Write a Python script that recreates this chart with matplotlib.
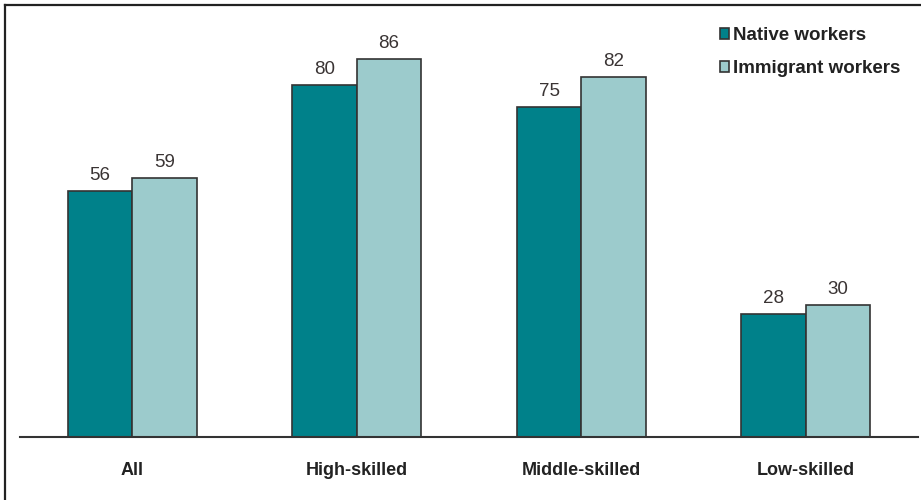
import numpy as np
import matplotlib.pyplot as plt
from matplotlib.lines import Line2D
from matplotlib.patches import Patch

categories = ["All", "High-skilled", "Middle-skilled", "Low-skilled"]
native = [56, 80, 75, 28]
immigrant = [59, 86, 82, 30]
series_names = ["Native workers", "Immigrant workers"]

plt.rcParams['font.family'] = ['Liberation Sans', 'DejaVu Sans']

c_native = "#00818a"
c_immig = "#9ccbcc"
edge = "#333333"

fig = plt.figure(figsize=(9.21, 5), dpi=100)
ax = fig.add_axes([20 / 921, 63 / 500, 898 / 921, 395.5 / 500])

x = np.arange(len(categories))
w = 0.287
b1 = ax.bar(x - w / 2, native, w, color=c_native, edgecolor=edge, linewidth=1.2)
b2 = ax.bar(x + w / 2, immigrant, w, color=c_immig, edgecolor=edge, linewidth=1.2)

# value labels above each bar
for bars, vals in ((b1, native), (b2, immigrant)):
    for rect, v in zip(bars, vals):
        ax.annotate(str(v), (rect.get_x() + rect.get_width() / 2, v),
                    xytext=(0, 5), textcoords="offset points",
                    ha="center", va="bottom", fontsize=13.5, color="#3a3434")

ax.set_xlim(-0.5, 3.5)
ax.set_ylim(0, 90)
ax.set_xticks(x)
ax.set_xticklabels(categories, fontsize=13, fontweight="bold", color="#222222")
ax.set_yticks([])
ax.tick_params(axis="x", length=0, pad=18)
for s in ("top", "left", "right"):
    ax.spines[s].set_visible(False)
ax.spines["bottom"].set_color("#333333")
ax.spines["bottom"].set_linewidth(1.5)

handles = [Patch(facecolor=c_native, edgecolor=edge, linewidth=1.2),
           Patch(facecolor=c_immig, edgecolor=edge, linewidth=1.2)]
leg = fig.legend(handles, series_names, loc="upper left",
                 bbox_to_anchor=(720 / 921, 1 - 27 / 500), frameon=False,
                 handlelength=0.5, handleheight=0.5, handletextpad=0.2,
                 labelspacing=0.85, borderpad=0, borderaxespad=0,
                 prop={"size": 13.5, "weight": "bold"})
for t in leg.get_texts():
    t.set_color("#222222")

# frame lines along top and left edge
fig.add_artist(Line2D([5 / 921, 1], [1 - 5 / 500, 1 - 5 / 500],
                      transform=fig.transFigure, color="#222222", lw=1.6))
fig.add_artist(Line2D([5 / 921, 5 / 921], [0, 1 - 5 / 500],
                      transform=fig.transFigure, color="#222222", lw=1.6))

fig.savefig("out.png", dpi=100)
